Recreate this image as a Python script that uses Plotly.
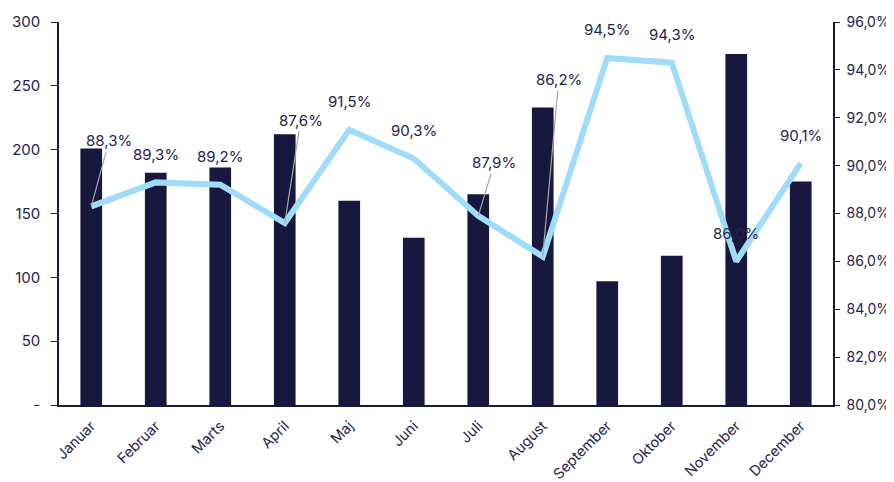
import plotly.graph_objects as go

months = ["Januar", "Februar", "Marts", "April", "Maj", "Juni", "Juli",
          "August", "September", "Oktober", "November", "December"]
volume = [201, 182, 186, 212, 160, 131, 165, 233, 97, 117, 275, 175]
pct = [88.3, 89.3, 89.2, 87.6, 91.5, 90.3, 87.9, 86.2, 94.5, 94.3, 86.0, 90.1]
pct_labels = ["88,3%", "89,3%", "89,2%", "87,6%", "91,5%", "90,3%", "87,9%",
              "86,2%", "94,5%", "94,3%", "86,0%", "90,1%"]

left_tickvals = [0, 50, 100, 150, 200, 250, 300]
left_ticktext = ["-", "50", "100", "150", "200", "250", "300"]
right_tickvals = [80, 82, 84, 86, 88, 90, 92, 94, 96]
right_ticktext = ["80,0%", "82,0%", "84,0%", "86,0%", "88,0%", "90,0%",
                  "92,0%", "94,0%", "96,0%"]

BAR = "#18173d"
LINE = "#a0dcfa"
TEXT = "#25244a"
FONT = "Inter"

# leader-line label offsets (pixels) for labels drawn away from their point
leaders = {"Januar": (18, -66), "April": (16, -103), "Juli": (16, -53), "August": (16, -177)}

fig = go.Figure()
fig.add_trace(go.Bar(x=months, y=volume, marker=dict(color=BAR, line=dict(width=0)),
                     width=0.336, yaxis="y", hoverinfo="skip"))
fig.add_trace(go.Scatter(x=months, y=pct, mode="lines", yaxis="y2",
                         line=dict(color=LINE, width=6), hoverinfo="skip"))

annotations = []
for m, v, t in zip(months, pct, pct_labels):
    if m in leaders:
        ax, ay = leaders[m]
        annotations.append(dict(x=m, y=v, xref="x", yref="y2", text=t,
                                showarrow=True, arrowhead=0, arrowwidth=1.2,
                                arrowcolor="#a6a6a6", ax=ax, ay=ay, standoff=0,
                                font=dict(family=FONT, size=15, color=TEXT)))
    else:
        annotations.append(dict(x=m, y=v, xref="x", yref="y2", text=t,
                                showarrow=False, yshift=28,
                                font=dict(family=FONT, size=15, color=TEXT)))

# page body has an 8px default margin, so the figure is sized to fit the window
fig.update_layout(
    width=886, height=474,
    margin=dict(l=51, r=61, t=14, b=77, autoexpand=False),
    paper_bgcolor="white", plot_bgcolor="white",
    showlegend=False,
    bargap=0.664,
    font=dict(family=FONT, size=15, color=TEXT),
    xaxis=dict(type="category", range=[-0.5, 11.5], showgrid=False, automargin=False,
               showline=True, linecolor=BAR, linewidth=1.5, ticks="",
               ticklabelstandoff=5,
               tickangle=-45, tickfont=dict(size=14.5, color=TEXT, family=FONT)),
    yaxis=dict(range=[0, 300], tickvals=left_tickvals, ticktext=left_ticktext,
               showgrid=False, zeroline=False, showline=True, linecolor=BAR,
               linewidth=1.5, ticks="outside", ticklen=6, tickcolor=BAR, automargin=False,
               ticklabelstandoff=8, tickfont=dict(size=15, color=TEXT, family=FONT)),
    yaxis2=dict(range=[80, 96], overlaying="y", side="right",
                tickvals=right_tickvals, ticktext=right_ticktext, automargin=False,
                showgrid=False, zeroline=False, showline=True, linecolor=BAR,
                linewidth=1.5, ticks="outside", ticklen=5, tickcolor=BAR,
                ticklabelstandoff=4, tickfont=dict(size=14, color=TEXT, family=FONT)),
    annotations=annotations,
)

fig.write_html("out.html")
